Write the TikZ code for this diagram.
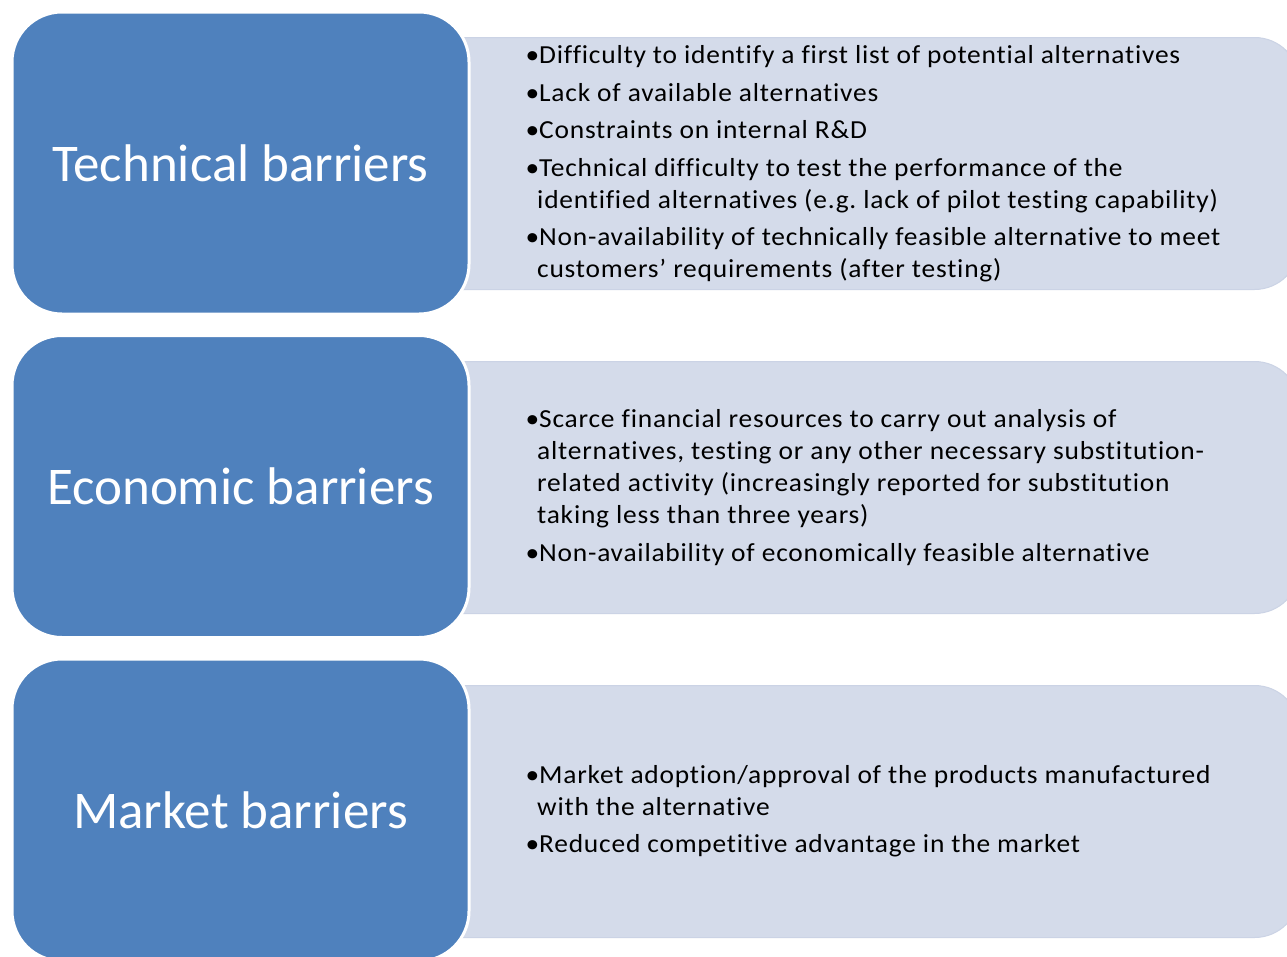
\documentclass[tikz,border=0pt]{standalone}
\usepackage{fontspec}
\setmainfont[Ligatures=NoCommon]{Carlito}
\newfontfamily\listfont[Ligatures=NoCommon,FakeStretch=1.055,LetterSpace=3]{Carlito}
\definecolor{headblue}{HTML}{4F81BD}
\definecolor{panelfill}{HTML}{D4DBEA}
\definecolor{paneledge}{HTML}{CBD3E5}
% bullet with hanging indent
\newcommand\itm{\makebox[12pt][l]{\hspace*{-1.5pt}•}}
\newcommand\cnt{\hspace*{10pt}}
\newcommand\gap{\\[5.5pt]}
\frenchspacing
\begin{document}
\begin{tikzpicture}[x=1pt,y=-1pt,
  panel/.style={fill=panelfill, draw=paneledge, line width=1pt,
    rounded corners=45pt, minimum width=1000pt, minimum height=252pt,
    anchor=north east, inner sep=0pt},
  header/.style={fill=headblue, draw=white, line width=3pt,
    rounded corners=50pt, minimum width=457pt, minimum height=302pt,
    text=white, font=\fontsize{53}{60}\selectfont, inner sep=0pt},
  items/.style={anchor=west, align=left, inner sep=0pt,
    font=\listfont\fontsize{26}{32}\selectfont, text=black}]
\useasboundingbox (0,0) rectangle (1287,956);
\clip (0,0) rectangle (1287,956);
\fill[white] (0,0) rectangle (1287,956);

% light panels behind the headers
\node[panel] (p1) at (1300,37) {};
\node[panel] (p2) at (1300,361) {};
\node[panel] (p3) at (1300,685) {};

% headers
\node[header] (h1) at (240.5,163) {Technical barriers};
\node[header] (h2) at (240.5,486.5) {Economic barriers};
\node[header] (h3) at (240.5,810) {Market barriers};

% bullet lists
\node[items] (t1) at (527,164) {%
\itm Difficulty to identify a first list of potential alternatives\gap
\itm Lack of available alternatives\gap
\itm Constraints on internal R\&D\gap
\itm Technical difficulty to test the performance of the\\
\cnt identified alternatives (e.g. lack of pilot testing capability)\gap
\itm Non-availability of technically feasible alternative to meet\\
\cnt customers’ requirements (after testing)};

\node[items] (t2) at (527,487.5) {%
\itm Scarce financial resources to carry out analysis of\\
\cnt alternatives, testing or any other necessary substitution-\\
\cnt related activity (increasingly reported for substitution\\
\cnt taking less than three years)\gap
\itm Non-availability of economically feasible alternative};

\node[items] (t3) at (527,811) {%
\itm Market adoption/approval of the products manufactured\\
\cnt with the alternative\gap
\itm Reduced competitive advantage in the market};
\end{tikzpicture}
\end{document}
